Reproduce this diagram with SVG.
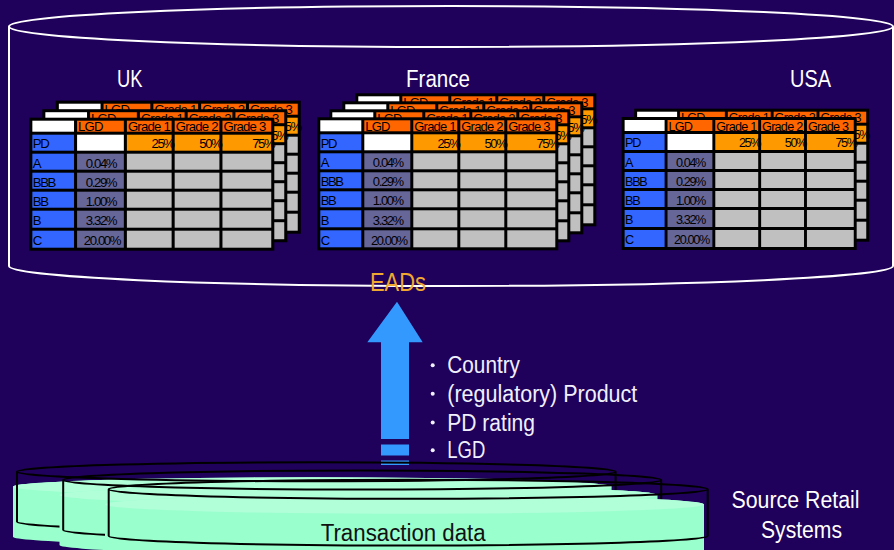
<svg xmlns="http://www.w3.org/2000/svg" width="894" height="550" viewBox="0 0 894 550">
<style>
.t{font-family:"Liberation Sans",Arial,sans-serif;font-size:13px;letter-spacing:-1.4px;fill:#000}
.h{font-family:"Liberation Sans",Arial,sans-serif;font-size:13px;letter-spacing:-0.8px;fill:#000}
.big{font-family:"Liberation Sans",Arial,sans-serif;font-size:23px;fill:#ffffff}
.bul{font-family:"Liberation Sans",Arial,sans-serif;font-size:23px;fill:#f0f0ff}
.w{fill:#ffffff}.or{fill:#ff6600}.pd{fill:#ff9900}.bl{fill:#3366ff}.lg{fill:#666699}.gr{fill:#c0c0c0}
.cylo{fill:none;stroke:#000;stroke-width:2}
.body{fill:#99ffcc}.top{fill:#b0ffd9}
</style>
<defs>
<g id="tbl">
<rect width="241" height="133" fill="#000"/>
<rect class="w" x="3" y="3" width="41" height="11"/><rect class="or" x="47" y="3" width="46" height="11"/><rect class="or" x="96" y="3" width="44" height="11"/><rect class="or" x="143" y="3" width="44" height="11"/><rect class="or" x="190" y="3" width="48" height="11"/>
<rect class="bl" x="3" y="17" width="41" height="16"/><rect class="w" x="47" y="17" width="46" height="16"/><rect class="pd" x="96" y="17" width="44" height="16"/><rect class="pd" x="143" y="17" width="44" height="16"/><rect class="pd" x="190" y="17" width="48" height="16"/>
<rect class="bl" x="3" y="36" width="41" height="16"/><rect class="lg" x="47" y="36" width="46" height="16"/><rect class="gr" x="96" y="36" width="44" height="16"/><rect class="gr" x="143" y="36" width="44" height="16"/><rect class="gr" x="190" y="36" width="48" height="16"/>
<rect class="bl" x="3" y="55" width="41" height="16"/><rect class="lg" x="47" y="55" width="46" height="16"/><rect class="gr" x="96" y="55" width="44" height="16"/><rect class="gr" x="143" y="55" width="44" height="16"/><rect class="gr" x="190" y="55" width="48" height="16"/>
<rect class="bl" x="3" y="74" width="41" height="16"/><rect class="lg" x="47" y="74" width="46" height="16"/><rect class="gr" x="96" y="74" width="44" height="16"/><rect class="gr" x="143" y="74" width="44" height="16"/><rect class="gr" x="190" y="74" width="48" height="16"/>
<rect class="bl" x="3" y="93" width="41" height="17"/><rect class="lg" x="47" y="93" width="46" height="17"/><rect class="gr" x="96" y="93" width="44" height="17"/><rect class="gr" x="143" y="93" width="44" height="17"/><rect class="gr" x="190" y="93" width="48" height="17"/>
<rect class="bl" x="3" y="113" width="41" height="17"/><rect class="lg" x="47" y="113" width="46" height="17"/><rect class="gr" x="96" y="113" width="44" height="17"/><rect class="gr" x="143" y="113" width="44" height="17"/><rect class="gr" x="190" y="113" width="48" height="17"/>
<text class="h" x="48" y="13.8">LGD</text><text class="h" x="97" y="13.8">Grade 1</text><text class="h" x="144" y="13.8">Grade 2</text><text class="h" x="191" y="13.8">Grade 3</text>
<text class="t" x="3.5" y="30.5">PD</text>
<text class="t" x="142" y="30.5" text-anchor="end">25%</text><text class="t" x="189" y="30.5" text-anchor="end">50%</text><text class="t" x="241" y="30.5" text-anchor="end">75%</text>
<text class="t" x="3.5" y="50">A</text><text class="t" x="3.5" y="69">BBB</text><text class="t" x="3.5" y="88">BB</text><text class="t" x="3.5" y="107.5">B</text><text class="t" x="3.5" y="127.5">C</text>
<text class="t" x="70.5" y="50" text-anchor="middle">0.04%</text><text class="t" x="70.5" y="69" text-anchor="middle">0.29%</text><text class="t" x="70.5" y="88" text-anchor="middle">1.00%</text><text class="t" x="70.5" y="107.5" text-anchor="middle">3.32%</text><text class="t" x="71.5" y="127.5" text-anchor="middle">20.00%</text>
</g>
</defs>
<rect width="894" height="550" fill="#1f005a"/>
<g id="datastore">
<path d="M9,26.5 A442,20.5 0 1 1 893,26.5 A442,20.5 0 1 1 9,26.5 Z M9,26.5 L9,266 A442,20 0 0 0 893,266 L893,26.5" fill="none" stroke="#ffffff" stroke-width="2"/>
</g>
<g id="uk">
<text class="big" x="117" y="87" textLength="25.5" lengthAdjust="spacingAndGlyphs">UK</text>
<use href="#tbl" transform="translate(55.8,100.7) scale(1.0166,1)"/>
<use href="#tbl" transform="translate(42.3,109.2) scale(1.0166,1)"/>
<use href="#tbl" transform="translate(29.3,117.7) scale(1.0166,1)"/>
</g>
<g id="france">
<text class="big" x="406" y="87" textLength="64" lengthAdjust="spacingAndGlyphs">France</text>
<use href="#tbl" transform="translate(355.3,93.3)"/>
<use href="#tbl" transform="translate(342.3,101.3)"/>
<use href="#tbl" transform="translate(329.3,109.3)"/>
<use href="#tbl" transform="translate(317.3,117.3)"/>
</g>
<g id="usa">
<text class="big" x="790" y="87" textLength="41" lengthAdjust="spacingAndGlyphs">USA</text>
<use href="#tbl" transform="translate(634.2,108.7) scale(0.975,1)"/>
<use href="#tbl" transform="translate(621.7,117) scale(0.975,1)"/>
</g>
<g id="eads">
<text x="370" y="291" font-family="Liberation Sans, Arial, sans-serif" font-size="25" fill="#f0a830" textLength="56" lengthAdjust="spacingAndGlyphs">EADs</text>
</g>
<g id="connectors">
<path d="M397,301.7 L422.7,342.3 L409,342.3 L409,439 L381,439 L381,342.3 L367.3,342.3 Z" fill="#3399ff"/>
<rect x="381" y="444.5" width="28" height="11" fill="#3399ff"/>
<rect x="381" y="460.5" width="28" height="4.5" fill="#3399ff"/>
</g>
<g id="attributes">
<circle cx="432.7" cy="365.3" r="2" fill="#f0f0ff"/>
<circle cx="432.7" cy="393.7" r="2" fill="#f0f0ff"/>
<circle cx="432.7" cy="422.5" r="2" fill="#f0f0ff"/>
<circle cx="432.7" cy="450.3" r="2" fill="#f0f0ff"/>
<text class="bul" x="447.3" y="373.3" textLength="72.7" lengthAdjust="spacingAndGlyphs">Country</text>
<text class="bul" x="447.3" y="401.7" textLength="190" lengthAdjust="spacingAndGlyphs">(regulatory) Product</text>
<text class="bul" x="447.3" y="430.5" textLength="87.7" lengthAdjust="spacingAndGlyphs">PD rating</text>
<text class="bul" x="447.3" y="458.3" textLength="38" lengthAdjust="spacingAndGlyphs">LGD</text>
</g>
<g id="source-systems">
<path class="body" d="M13,486.7 L13,536.7 A299.3,9.5 0 0 0 611.6,536.7 L611.6,486.7 A299.3,9.5 0 0 0 13,486.7 Z"/>
<ellipse class="top" cx="312.3" cy="486.7" rx="299.3" ry="9.5"/>
<path class="cylo" d="M17,471.7 A299.3,9.5 0 1 1 615.6,471.7 A299.3,9.5 0 1 1 17,471.7 Z M17,471.7 L17,521.7 A299.3,9.5 0 0 0 615.6,521.7 L615.6,471.7"/>
<path class="body" d="M59.5,495 L59.5,545 A299,9.5 0 0 0 657.5,545 L657.5,495 A299,9.5 0 0 0 59.5,495 Z"/>
<ellipse class="top" cx="358.5" cy="495" rx="299" ry="9.5"/>
<path class="cylo" d="M63.2,480 A299,9.5 0 1 1 661.2,480 A299,9.5 0 1 1 63.2,480 Z M63.2,480 L63.2,530 A299,9.5 0 0 0 661.2,530 L661.2,480"/>
<path class="body" d="M105,504.3 L105,552 A299.5,9.5 0 0 0 704,552 L704,504.3 A299.5,9.5 0 0 0 105,504.3 Z"/>
<ellipse class="top" cx="404.5" cy="504.3" rx="299.5" ry="9.5"/>
<path class="cylo" d="M108.7,489.3 A299.5,9.5 0 1 1 707.7,489.3 A299.5,9.5 0 1 1 108.7,489.3 Z M108.7,489.3 L108.7,536 A299.5,9.5 0 0 0 707.7,536 L707.7,489.3"/>
<text x="320.7" y="540.7" font-family="Liberation Sans, Arial, sans-serif" font-size="23" fill="#111111" textLength="165" lengthAdjust="spacingAndGlyphs">Transaction data</text>
<text class="big" x="731.5" y="508.3" textLength="128" lengthAdjust="spacingAndGlyphs">Source Retail</text>
<text class="big" x="761" y="538.3" textLength="81" lengthAdjust="spacingAndGlyphs">Systems</text>
</g>
</svg>
